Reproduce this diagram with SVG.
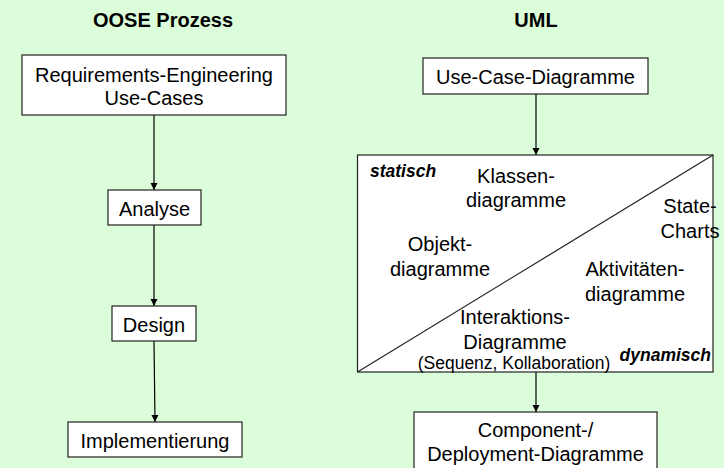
<svg xmlns="http://www.w3.org/2000/svg" width="724" height="468" viewBox="0 0 724 468">
<defs>
<marker id="arr" markerWidth="8" markerHeight="8" refX="7" refY="4" orient="auto" markerUnits="userSpaceOnUse">
<path d="M0,0.5 L7,4 L0,7.5 Z" fill="#000"/>
</marker>
<style>
.box{fill:#fff;stroke:#222;stroke-width:1.2}
.t{font-family:"Liberation Sans",Arial,sans-serif;font-size:20px;fill:#000;text-anchor:middle}
.h{font-family:"Liberation Sans",Arial,sans-serif;font-size:20px;font-weight:bold;fill:#000;text-anchor:middle}
.bi{font-family:"Liberation Sans",Arial,sans-serif;font-size:17.5px;font-weight:bold;font-style:italic;fill:#000}
.s{font-family:"Liberation Sans",Arial,sans-serif;font-size:17.5px;fill:#000;text-anchor:middle}
.c{stroke:#000;stroke-width:1.2;fill:none;marker-end:url(#arr)}
</style>
</defs>
<rect width="724" height="468" fill="#dcfdd9"/>
<text class="h" x="163" y="27">OOSE Prozess</text>
<text class="h" x="536" y="27">UML</text>
<g id="connectors">
<line class="c" x1="154" y1="115" x2="154" y2="190"/>
<line class="c" x1="154" y1="225" x2="154" y2="306"/>
<line class="c" x1="154" y1="341" x2="155" y2="422"/>
<line class="c" x1="536" y1="94" x2="536" y2="155"/>
<line class="c" x1="536" y1="372" x2="536" y2="412"/>
</g>
<g id="req">
<rect class="box" x="22" y="55" width="264" height="60"/>
<text class="t" x="154" y="82">Requirements-Engineering</text>
<text class="t" x="154" y="105">Use-Cases</text>
</g>
<g id="analyse">
<rect class="box" x="108" y="190" width="93" height="35"/>
<text class="t" x="154.5" y="216">Analyse</text>
</g>
<g id="design">
<rect class="box" x="112" y="306" width="84" height="35"/>
<text class="t" x="154" y="332">Design</text>
</g>
<g id="impl">
<rect class="box" x="68" y="422" width="174" height="35"/>
<text class="t" x="155" y="448">Implementierung</text>
</g>
<g id="usecase">
<rect class="box" x="423" y="58" width="225" height="36"/>
<text class="t" x="535.5" y="84">Use-Case-Diagramme</text>
</g>
<g id="uml">
<rect class="box" x="357.5" y="155" width="355.5" height="217"/>
<line x1="357.5" y1="372" x2="713" y2="155" stroke="#222" stroke-width="1.2"/>
<text class="bi" x="370" y="177">statisch</text>
<text class="t" x="516" y="183">Klassen-</text>
<text class="t" x="516" y="207">diagramme</text>
<text class="t" x="690" y="213">State-</text>
<text class="t" x="690" y="238">Charts</text>
<text class="t" x="440" y="251">Objekt-</text>
<text class="t" x="440" y="276">diagramme</text>
<text class="t" x="635" y="276">Aktivitäten-</text>
<text class="t" x="635" y="301">diagramme</text>
<text class="t" x="515" y="324">Interaktions-</text>
<text class="t" x="515" y="349">Diagramme</text>
<text class="s" x="514" y="369">(Sequenz, Kollaboration)</text>
<text class="bi" x="711" y="361" text-anchor="end">dynamisch</text>
</g>
<g id="component">
<rect class="box" x="414" y="412" width="243" height="60"/>
<text class="t" x="535.5" y="437">Component-/</text>
<text class="t" x="535.5" y="461">Deployment-Diagramme</text>
</g>
</svg>
